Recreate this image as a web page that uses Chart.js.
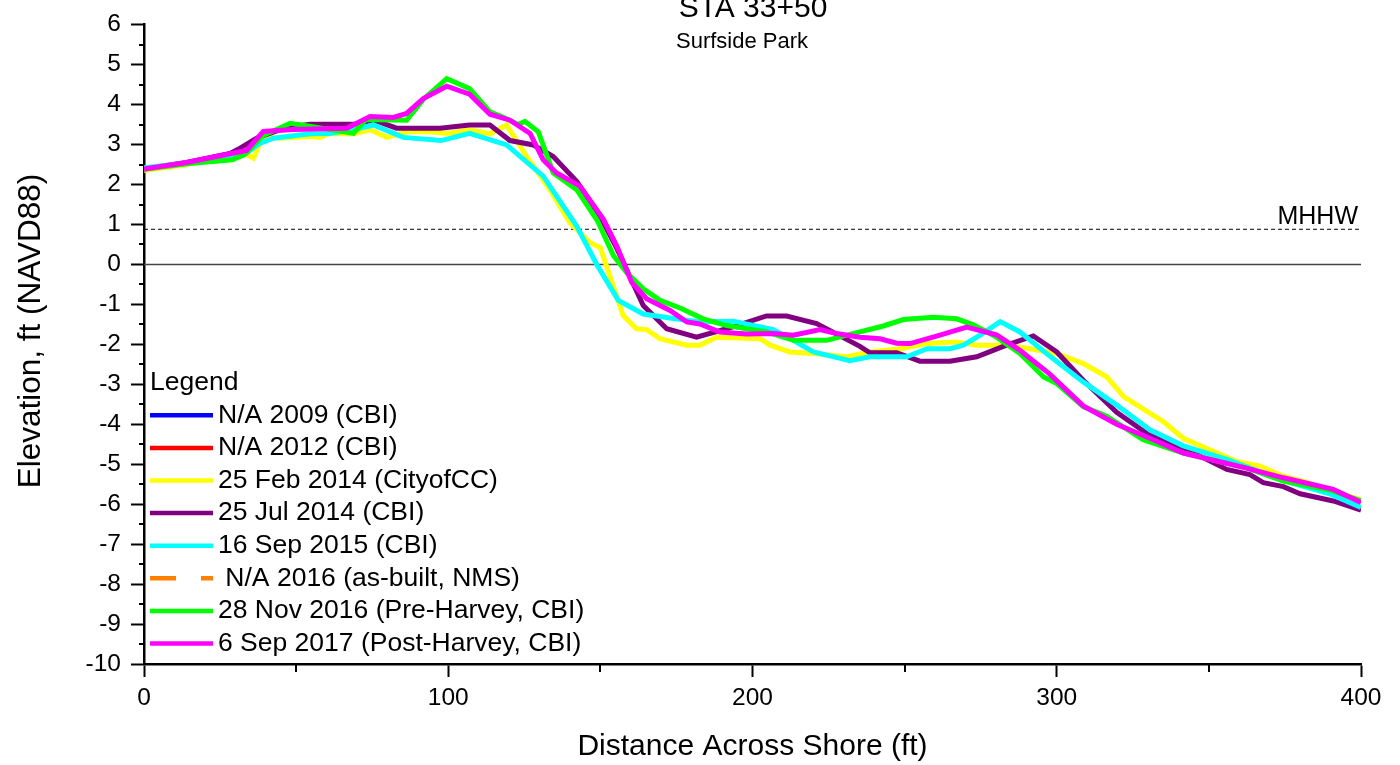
<!DOCTYPE html>
<html>
<head>
<meta charset="utf-8">
<script src="https://cdn.jsdelivr.net/npm/chart.js@4.4.1/dist/chart.umd.min.js"></script>
<style>
  html, body { margin: 0; padding: 0; background: #fff; }
</style>
</head>
<body>
<canvas id="profileChart" width="1400" height="765"></canvas>
<script>
// profile data, [distance ft, elevation ft]
const feb2014 = [[0,2.35],[14,2.5],[28,2.72],[32.6,2.79],[36,2.66],[39,3.2],[44.7,3.16],[54.6,3.2],[57.8,3.18],[61,3.28],[68.8,3.27],[74.3,3.37],[79.8,3.18],[86.3,3.32],[94,3.32],[99.8,3.28],[107,3.37],[113.7,3.27],[119.2,3.49],[125.8,2.7],[133.4,1.87],[140,1.04],[146.6,0.55],[150,0.42],[157.5,-1.28],[161.9,-1.61],[165.2,-1.63],[169.6,-1.86],[178.4,-2.02],[182.7,-2.02],[188.2,-1.82],[202.5,-1.86],[205.8,-2.02],[212.3,-2.19],[220,-2.23],[231,-2.31],[238.6,-2.19],[248.5,-2.11],[257.3,-1.98],[267,-1.94],[273.7,-2.02],[283.5,-2.02],[291.2,-2.11],[300,-2.23],[308.7,-2.48],[316.4,-2.81],[322,-3.31],[330.6,-3.72],[335,-3.93],[341.6,-4.35],[359.2,-4.93],[366.8,-5.05],[374.5,-5.3],[382,-5.45],[390,-5.65],[400,-5.9]];
const jul2014 = [[0,2.39],[14,2.55],[28.3,2.78],[31.6,2.91],[37,3.16],[46.9,3.43],[54.6,3.51],[69.9,3.51],[75.4,3.62],[83,3.41],[97.3,3.41],[107,3.49],[113.7,3.49],[120.3,3.1],[128,2.99],[134.5,2.7],[142.2,2.08],[149.9,1.21],[155.4,0.4],[164.1,-1.03],[171.8,-1.61],[181.6,-1.82],[191.5,-1.61],[204.6,-1.29],[211.2,-1.29],[221.1,-1.48],[235.3,-2.05],[238.6,-2.21],[247.4,-2.21],[255,-2.42],[264.9,-2.42],[273.7,-2.31],[283.5,-2.02],[292.3,-1.79],[300,-2.19],[308.7,-2.9],[319.7,-3.7],[330.6,-4.28],[341.6,-4.59],[355.9,-5.13],[363.5,-5.26],[367.9,-5.46],[374.5,-5.56],[380,-5.74],[390.9,-5.92],[400,-6.15]];
const sep2015 = [[0,2.42],[14,2.54],[28,2.72],[33.7,2.79],[38,3.03],[42.5,3.16],[54.6,3.27],[61,3.28],[68.8,3.37],[75.4,3.49],[85.2,3.18],[97.6,3.1],[107,3.28],[119.2,2.99],[131.2,2.21],[142.2,0.96],[148.8,0.0],[155.9,-0.9],[164.1,-1.24],[172.9,-1.34],[182.7,-1.44],[193.7,-1.42],[206.8,-1.63],[213.4,-1.9],[220,-2.19],[232,-2.41],[238.6,-2.31],[250.7,-2.31],[257.3,-2.11],[264.9,-2.11],[269.3,-2.02],[274.8,-1.77],[281.4,-1.43],[287.9,-1.69],[297.8,-2.3],[308.7,-2.94],[319.7,-3.52],[330.6,-4.14],[341.6,-4.54],[355.9,-4.88],[374.5,-5.41],[390,-5.75],[400,-6.08]];
const nov2016 = [[0,2.38],[14,2.52],[29,2.62],[33,2.75],[39,3.22],[48,3.53],[55,3.45],[68.8,3.28],[73,3.63],[86.3,3.61],[92,4.15],[99.5,4.65],[107,4.4],[113.7,3.82],[119,3.65],[123,3.5],[125.2,3.58],[129.6,3.32],[134.5,2.29],[142.2,1.87],[149,1.1],[154.3,0.22],[158.6,-0.2],[164.1,-0.61],[169.6,-0.9],[176.2,-1.09],[183.8,-1.36],[191.5,-1.53],[204.6,-1.69],[213.4,-1.9],[224.4,-1.9],[232,-1.75],[243,-1.54],[249.6,-1.38],[259.4,-1.32],[267.1,-1.36],[272.6,-1.51],[280.2,-1.82],[287.9,-2.23],[295.6,-2.81],[300,-2.98],[308.7,-3.56],[316.4,-3.8],[328.4,-4.39],[341.6,-4.72],[362.4,-5.09],[374.5,-5.42],[390,-5.65],[400,-5.92]];
const sep2017 = [[0,2.39],[14,2.55],[28.3,2.77],[33.7,2.85],[39.2,3.33],[49,3.38],[66.6,3.41],[74.3,3.7],[82,3.68],[86.3,3.78],[91.8,4.15],[99.5,4.46],[107,4.26],[113.7,3.76],[120.3,3.61],[126.9,3.28],[131.2,2.62],[135.6,2.29],[143.3,1.96],[151,1.13],[155.4,0.46],[160.3,-0.45],[165.2,-0.86],[172.9,-1.15],[178.4,-1.44],[182.7,-1.49],[189.3,-1.69],[198,-1.74],[206.8,-1.73],[213.4,-1.77],[222.2,-1.63],[227.6,-1.73],[235.3,-1.82],[241.9,-1.86],[247.4,-1.97],[251.8,-1.98],[261.6,-1.77],[270.4,-1.57],[280.2,-1.76],[287.9,-2.15],[297.8,-2.75],[308.7,-3.54],[319.7,-4.0],[330.6,-4.35],[341.6,-4.72],[362,-5.09],[374.5,-5.34],[390.9,-5.63],[400,-5.96]];

const seriesLabels = ['N/A 2009 (CBI)', 'N/A 2012 (CBI)', '25 Feb 2014 (CityofCC)', '25 Jul 2014 (CBI)',
  '16 Sep 2015 (CBI)', ' N/A 2016 (as-built, NMS)', '28 Nov 2016 (Pre-Harvey, CBI)', '6 Sep 2017 (Post-Harvey, CBI)'];
const seriesColors = ['#0000ff', '#ff0000', '#ffff00', '#800080', '#00ffff', '#ff8000', '#00ff00', '#ff00ff'];
const seriesData = [[], [], feb2014, jul2014, sep2015, [], nov2016, sep2017];

const mhhw = 0.88;
const xRange = [0, 400];
const yRange = [-10, 6];

const FONT = '"Liberation Sans", Arial, Helvetica, sans-serif';
Chart.defaults.font.family = FONT;
Chart.defaults.color = '#000';

const toPts = arr => arr.map(p => ({ x: p[0], y: p[1] }));

const datasets = seriesLabels.map((label, i) => ({
  label: label,
  data: toPts(seriesData[i]),
  borderColor: seriesColors[i],
  backgroundColor: seriesColors[i],
  borderWidth: 5,
  borderDash: i === 5 ? [26, 25] : [],
  pointRadius: 0,
  tension: 0,
  fill: false,
  inLegend: true,
  order: seriesLabels.length - i
}));

// reference lines (zero and MHHW)
datasets.push({
  label: 'zero', data: toPts([[xRange[0], 0], [xRange[1], 0]]),
  borderColor: '#444', borderWidth: 1.5, pointRadius: 0, order: 50
});
datasets.push({
  label: 'MHHW', data: toPts([[xRange[0], mhhw], [xRange[1], mhhw]]),
  borderColor: '#000', borderWidth: 1, borderDash: [4, 3], pointRadius: 0, order: 51
});

const extras = {
  id: 'extras',
  afterDraw(chart) {
    const ctx = chart.ctx;
    const xs = chart.scales.x, ys = chart.scales.y;
    const a = chart.chartArea;
    ctx.save();

    // minor ticks
    ctx.strokeStyle = '#000';
    ctx.lineWidth = 2;
    for (let v = 50; v < xRange[1]; v += 100) {
      const px = Math.round(xs.getPixelForValue(v));
      ctx.beginPath(); ctx.moveTo(px, a.bottom); ctx.lineTo(px, a.bottom + 8); ctx.stroke();
    }
    for (let v = yRange[0] + 0.5; v < yRange[1]; v += 1) {
      const py = Math.round(ys.getPixelForValue(v));
      ctx.beginPath(); ctx.moveTo(a.left - 5, py); ctx.lineTo(a.left, py); ctx.stroke();
    }

    // y axis title (sits a bit above the plot centre in the original)
    ctx.fillStyle = '#000';
    ctx.save();
    ctx.translate(31, 331);
    ctx.rotate(-Math.PI / 2);
    ctx.font = '31.5px ' + FONT;
    ctx.textAlign = 'center';
    ctx.textBaseline = 'middle';
    ctx.fillText('Elevation, ft (NAVD88)', 0, 0);
    ctx.restore();

    // MHHW label
    ctx.font = '25px ' + FONT;
    ctx.textAlign = 'right';
    ctx.textBaseline = 'alphabetic';
    ctx.fillText('MHHW', xs.getPixelForValue(xRange[1]) - 3, ys.getPixelForValue(mhhw) - 5);

    // title + subtitle
    ctx.textAlign = 'center';
    ctx.font = '30px ' + FONT;
    ctx.fillText('STA 33+50', 753, 17);
    ctx.font = '22px ' + FONT;
    ctx.textBaseline = 'middle';
    ctx.fillText('Surfside Park', 742, 42);

    // legend inside plot
    const lx = a.left + 6;
    let ly = a.top + 358;
    ctx.textAlign = 'left';
    ctx.font = '26.5px ' + FONT;
    ctx.fillText('Legend', lx, ly);
    chart.data.datasets.filter(d => d.inLegend).forEach(d => {
      ly += 32.6;
      ctx.strokeStyle = d.borderColor;
      ctx.lineWidth = 4.5;
      ctx.setLineDash(d.borderDash || []);
      ctx.beginPath(); ctx.moveTo(lx, ly); ctx.lineTo(lx + 63, ly); ctx.stroke();
      ctx.setLineDash([]);
      ctx.fillText(d.label, lx + 68, ly);
    });
    ctx.restore();
  }
};

new Chart(document.getElementById('profileChart'), {
  type: 'line',
  data: { datasets: datasets },
  options: {
    responsive: false,
    animation: false,
    layout: { padding: { top: 21, right: 39, left: 0, bottom: 0 } },
    plugins: { legend: { display: false }, tooltip: { enabled: false } },
    scales: {
      x: {
        type: 'linear', min: xRange[0], max: xRange[1],
        ticks: { stepSize: 100, font: { size: 24.5 }, color: '#000', padding: 7 },
        grid: { drawOnChartArea: false, tickLength: 13, tickColor: '#000', tickWidth: 2 },
        border: { color: '#000', width: 2.5 },
        title: { display: true, text: 'Distance Across Shore (ft)', font: { size: 30 }, color: '#000', padding: { top: 0, bottom: 0 } },
        afterFit(scale) { scale.height = 101; }
      },
      y: {
        type: 'linear', min: yRange[0], max: yRange[1],
        ticks: { stepSize: 1, font: { size: 24.5 }, color: '#000', padding: 10 },
        grid: { drawOnChartArea: false, tickLength: 13, tickColor: '#000', tickWidth: 2 },
        border: { color: '#000', width: 2.5 },
        title: { display: false },
        afterFit(scale) { scale.width = 144; }
      }
    }
  },
  plugins: [extras]
});
</script>
</body>
</html>
